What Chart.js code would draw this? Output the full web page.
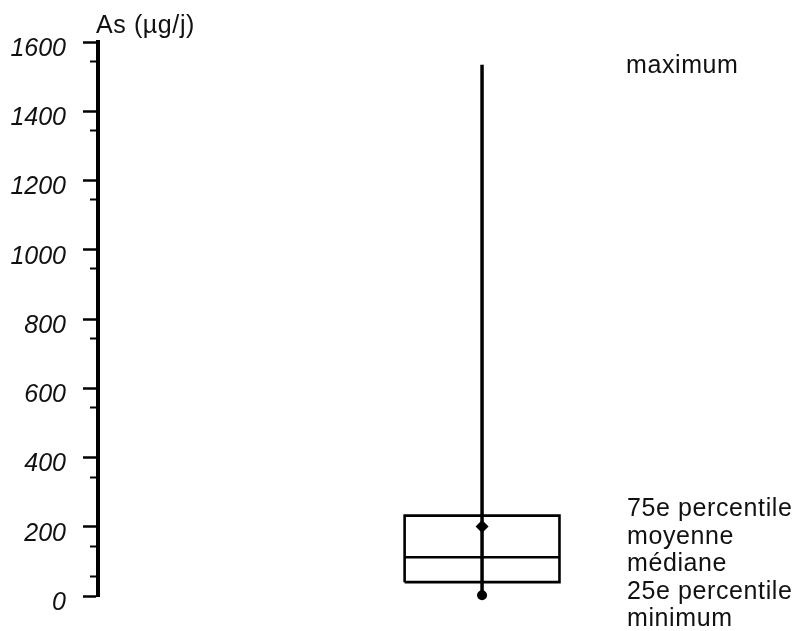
<!DOCTYPE html>
<html>
<head>
<meta charset="utf-8">
<script src="https://cdn.jsdelivr.net/npm/chart.js@4/dist/chart.umd.min.js"></script>
<style>
  html, body { margin: 0; padding: 0; background: #fff; }
  #wrap { width: 802px; height: 631px; }
</style>
</head>
<body>
<div id="wrap"><canvas id="c" width="802" height="631"></canvas></div>
<script>
// ---- data (µg/j) ----
const statNames   = ['maximum', '75e percentile', 'moyenne', 'médiane', '25e percentile', 'minimum'];
const maximumVal  = 1534;
const q3Val       = 232;
const meanVal     = 201;
const medianVal   = 112;
const q1Val       = 40;
const minimumVal  = 2;
const yTickValues = [0, 200, 400, 600, 800, 1000, 1200, 1400, 1600];
const yTickLabels = ['0', '200', '400', '600', '800', '1000', '1200', '1400', '1600'];
const yMinorTicks = [56, 143, 343, 545, 745, 945, 1145, 1345, 1545];
const axisTitle   = 'As (\u00b5g/j)';

// ---- layout constants (x in a 0..1 hidden scale) ----
const BOX_X = 0.5506;
const BOX_HALF = 0.111;
const L = BOX_X - BOX_HALF, R = BOX_X + BOX_HALF;

const textPlugin = {
  id: 'texts',
  afterDraw(chart) {
    const ctx = chart.ctx;
    ctx.save();
    ctx.fillStyle = '#111';
    ctx.textAlign = 'left';
    ctx.textBaseline = 'alphabetic';
    ctx.font = '25px "Liberation Sans", Arial, sans-serif';
    try { ctx.letterSpacing = '0.6px'; } catch (e) {}
    // axis title
    ctx.fillText(axisTitle, 96, 33);
    // statistic labels
    ctx.fillText(statNames[0], 626, 73);
    const base = [516, 543.5, 571, 598.5, 626];
    for (let i = 1; i < statNames.length; i++) {
      ctx.fillText(statNames[i], 627, base[i - 1]);
    }
    ctx.restore();
  }
};

const black = '#000';
new Chart(document.getElementById('c'), {
  type: 'scatter',
  data: {
    datasets: [
      { // mean
        data: [{x: BOX_X, y: meanVal}], clip: false,
        pointStyle: 'rectRot', pointRadius: 6.5, backgroundColor: black, borderColor: black, borderWidth: 0
      },
      { // minimum
        data: [{x: BOX_X, y: minimumVal}], clip: false,
        pointStyle: 'circle', pointRadius: 5, backgroundColor: black, borderColor: black, borderWidth: 0
      },
      { // whisker
        data: [{x: BOX_X, y: minimumVal}, {x: BOX_X, y: maximumVal}], clip: false,
        showLine: true, borderColor: black, borderWidth: 3.5, pointRadius: 0, borderCapStyle: 'butt'
      },
      { // box outline
        data: [{x: L, y: q1Val}, {x: L, y: q3Val}, {x: R, y: q3Val}, {x: R, y: q1Val}, {x: L, y: q1Val}], clip: false,
        showLine: true, borderColor: black, borderWidth: 2.6, pointRadius: 0, borderJoinStyle: 'miter', fill: false
      },
      { // median
        data: [{x: L, y: medianVal}, {x: R, y: medianVal}], clip: false,
        showLine: true, borderColor: black, borderWidth: 2.6, pointRadius: 0
      }
    ]
  },
  options: {
    responsive: false,
    animation: false,
    events: [],
    layout: { padding: { left: 0, right: 2, top: 42, bottom: 35 } },
    plugins: { legend: { display: false }, tooltip: { enabled: false }, title: { display: false } },
    scales: {
      x: { type: 'linear', min: 0, max: 1, display: false },
      y: {
        type: 'linear', position: 'left', min: 0, max: 1600, weight: 10,
        afterBuildTicks: (s) => { s.ticks = yTickValues.map(v => ({ value: v })); },
        afterFit: (s) => { s.width = 98; },
        border: { display: true, color: black, width: 4 },
        grid: { drawOnChartArea: false, drawTicks: true, tickLength: 15, tickWidth: 2.5, tickColor: black },
        ticks: {
          padding: 17, labelOffset: 7, color: '#111',
          font: { family: '"Liberation Sans", Arial, sans-serif', size: 25, style: 'italic' },
          callback: (v, i) => yTickLabels[i]
        }
      },
      yMinor: {
        type: 'linear', position: 'left', min: 0, max: 1600, weight: 0,
        afterBuildTicks: (s) => { s.ticks = yMinorTicks.map(v => ({ value: v })); },
        afterFit: (s) => { s.width = 0; },
        border: { display: false },
        grid: { drawOnChartArea: false, drawTicks: true, tickLength: 8, tickWidth: 2, tickColor: black },
        ticks: { display: false }
      }
    }
  },
  plugins: [textPlugin]
});
</script>
</body>
</html>
